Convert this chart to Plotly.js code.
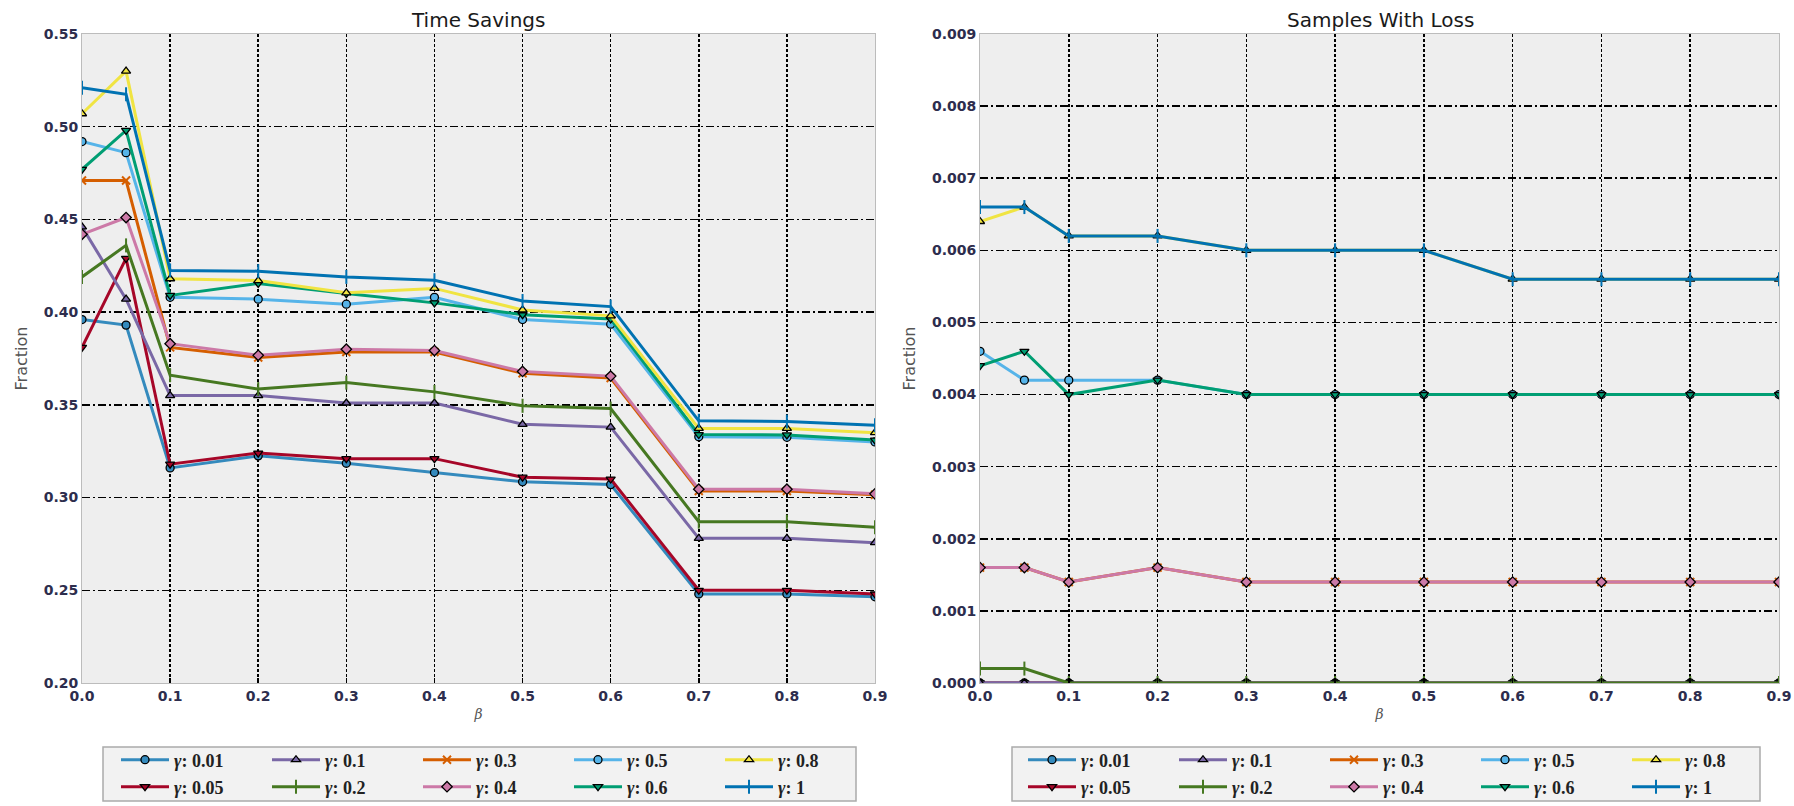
<!DOCTYPE html>
<html>
<head>
<meta charset="utf-8">
<script src="https://cdn.plot.ly/plotly-3.0.1.min.js"></script>
<style>html,body{margin:0;padding:0;background:#fff;}#chart{width:1794px;height:806px;}</style>
</head>
<body>
<div id="chart"></div>
<script>
// ---------------- data ----------------
const beta = [0, 0.05, 0.1, 0.2, 0.3, 0.4, 0.5, 0.6, 0.7, 0.8, 0.9];
const gammaLabels = ['0.01', '0.05', '0.1', '0.2', '0.3', '0.4', '0.5', '0.6', '0.8', '1'];

// Time Savings (fraction)
const ts_g001 = [0.396, 0.393, 0.316, 0.3225, 0.3185, 0.3135, 0.3085, 0.307, 0.248, 0.248, 0.2465];
const ts_g005 = [0.381, 0.429, 0.318, 0.324, 0.321, 0.321, 0.311, 0.310, 0.250, 0.250, 0.248];
const ts_g01  = [0.446, 0.407, 0.355, 0.355, 0.351, 0.351, 0.3395, 0.338, 0.278, 0.278, 0.2757];
const ts_g02  = [0.419, 0.436, 0.366, 0.3585, 0.362, 0.357, 0.3495, 0.348, 0.287, 0.287, 0.284];
const ts_g03  = [0.471, 0.471, 0.381, 0.3755, 0.3785, 0.3785, 0.367, 0.3645, 0.3035, 0.3035, 0.3015];
const ts_g04  = [0.442, 0.451, 0.383, 0.3767, 0.380, 0.3793, 0.368, 0.3655, 0.3045, 0.3045, 0.302];
const ts_g05  = [0.492, 0.486, 0.408, 0.407, 0.4043, 0.408, 0.396, 0.3935, 0.3328, 0.3325, 0.330];
const ts_g06  = [0.477, 0.498, 0.409, 0.4155, 0.410, 0.405, 0.3986, 0.3963, 0.334, 0.3338, 0.331];
const ts_g08  = [0.507, 0.530, 0.418, 0.417, 0.4104, 0.4128, 0.4012, 0.398, 0.3373, 0.3373, 0.335];
const ts_g1   = [0.521, 0.5175, 0.4225, 0.4221, 0.419, 0.4172, 0.406, 0.403, 0.3414, 0.341, 0.339];

// Samples With Loss (fraction)
const sl_g001 = [0, 0, 0, 0, 0, 0, 0, 0, 0, 0, 0];
const sl_g005 = [0, 0, 0, 0, 0, 0, 0, 0, 0, 0, 0];
const sl_g01  = [0, 0, 0, 0, 0, 0, 0, 0, 0, 0, 0];
const sl_g02  = [0.0002, 0.0002, 0, 0, 0, 0, 0, 0, 0, 0, 0];
const sl_g03  = [0.0016, 0.0016, 0.0014, 0.0016, 0.0014, 0.0014, 0.0014, 0.0014, 0.0014, 0.0014, 0.0014];
const sl_g04  = [0.0016, 0.0016, 0.0014, 0.0016, 0.0014, 0.0014, 0.0014, 0.0014, 0.0014, 0.0014, 0.0014];
const sl_g05  = [0.0046, 0.0042, 0.0042, 0.0042, 0.0040, 0.0040, 0.0040, 0.0040, 0.0040, 0.0040, 0.0040];
const sl_g06  = [0.0044, 0.0046, 0.0040, 0.0042, 0.0040, 0.0040, 0.0040, 0.0040, 0.0040, 0.0040, 0.0040];
const sl_g08  = [0.0064, 0.0066, 0.0062, 0.0062, 0.0060, 0.0060, 0.0060, 0.0056, 0.0056, 0.0056, 0.0056];
const sl_g1   = [0.0066, 0.0066, 0.0062, 0.0062, 0.0060, 0.0060, 0.0060, 0.0056, 0.0056, 0.0056, 0.0056];

const timeSeries = [ts_g001, ts_g005, ts_g01, ts_g02, ts_g03, ts_g04, ts_g05, ts_g06, ts_g08, ts_g1];
const lossSeries = [sl_g001, sl_g005, sl_g01, sl_g02, sl_g03, sl_g04, sl_g05, sl_g06, sl_g08, sl_g1];

// ---------------- styles ----------------
const colors = ['#348ABD', '#A60628', '#7A68A6', '#467821', '#D55E00', '#CC79A7', '#56B4E9', '#009E73', '#F0E442', '#0072B2'];
const symbols = ['circle', 'triangle-down', 'triangle-up', 'line-ns-open', 'x-thin-open', 'diamond', 'circle', 'triangle-down', 'triangle-up', 'line-ns-open'];
const sizes = [8, 8, 8, 10, 8, 8, 8, 8, 8, 10];
// legend row for each series (row 1 / row 2)
const legendRow = [1, 2, 1, 2, 1, 2, 1, 2, 1, 2];

// plot area in pixels
const L = 82, R = 15, T = 34, B = 123, W = 1794, H = 806;
const PW = W - L - R, PH = H - T - B;
const px2x = p => (p - L) / PW;
const py2y = p => (H - B - p) / PH;

const traces = [];
function addTraces(series, xa, ya, legA, legB) {
  series.forEach((vals, i) => {
    const open = symbols[i].indexOf('open') >= 0;
    traces.push({
      type: 'scatter', mode: 'lines+markers',
      x: beta, y: vals, xaxis: xa, yaxis: ya,
      name: '<i>γ</i>: ' + gammaLabels[i],
      legend: legendRow[i] === 1 ? legA : legB,
      line: {color: colors[i], width: 3},
      marker: {symbol: symbols[i], size: sizes[i], color: colors[i],
               line: {color: open ? colors[i] : '#000', width: open ? 2 : 1.3}}
    });
  });
}
addTraces(timeSeries, 'x', 'y', 'legend', 'legend2');
addTraces(lossSeries, 'x2', 'y2', 'legend3', 'legend4');

const tickFont = {family: 'DejaVu Sans', size: 14, weight: 700, color: '#2d2d4d'};
const axCommon = {
  showgrid: true, gridcolor: '#000', gridwidth: 1.5,
  zeroline: false, showline: true, linecolor: '#bcbcbc', linewidth: 1, mirror: true,
  ticks: 'inside', ticklen: 5, tickwidth: 1.5, tickcolor: '#000',
  tickfont: tickFont, automargin: false, fixedrange: true
};
const xCommon = Object.assign({}, axCommon, {
  range: [0, 0.9], dtick: 0.1, tick0: 0, tickformat: '.1f', griddash: '3px,2px',
  title: {text: 'β', standoff: 6, font: {family: 'DejaVu Serif', size: 14, style: 'italic', color: '#555'}}
});
const yTitle = {text: 'Fraction', standoff: 12, font: {family: 'DejaVu Sans', size: 16, color: '#555'}};

const legFont = {family: 'Liberation Serif', size: 18, weight: 700, color: '#222'};
function legend(xp, yp) {
  return {orientation: 'h', x: px2x(xp), y: py2y(yp), xanchor: 'left', yanchor: 'middle',
          entrywidth: 88, itemwidth: 48, bgcolor: 'rgba(0,0,0,0)', borderwidth: 0, font: legFont,
          tracegroupgap: 0};
}

const layout = {
  width: W, height: H,
  margin: {l: L, r: R, t: T, b: B, autoexpand: false},
  paper_bgcolor: '#fff', plot_bgcolor: '#eeeeee',
  showlegend: true,
  xaxis: Object.assign({}, xCommon, {domain: [0, px2x(875)], anchor: 'y'}),
  yaxis: Object.assign({}, axCommon, {range: [0.20, 0.55], dtick: 0.05, tick0: 0.2, tickformat: '.2f',
          griddash: '8px,3px,2px,3px', anchor: 'x', title: yTitle}),
  xaxis2: Object.assign({}, xCommon, {domain: [px2x(980), 1], anchor: 'y2'}),
  yaxis2: Object.assign({}, axCommon, {range: [0, 0.009], dtick: 0.001, tick0: 0, tickformat: '.3f',
          griddash: '8px,3px,2px,3px', anchor: 'x2', title: yTitle}),
  legend: legend(116, 760),
  legend2: legend(116, 787),
  legend3: legend(1023, 760),
  legend4: legend(1023, 787),
  annotations: [
    {text: 'Time Savings', xref: 'paper', yref: 'paper', x: px2x(478), y: py2y(20),
     xanchor: 'center', yanchor: 'middle', showarrow: false,
     font: {family: 'DejaVu Sans', size: 20, color: '#1a1a1a'}},
    {text: 'Samples With Loss', xref: 'paper', yref: 'paper', x: px2x(1380), y: py2y(20),
     xanchor: 'center', yanchor: 'middle', showarrow: false,
     font: {family: 'DejaVu Sans', size: 20, color: '#1a1a1a'}}
  ],
  shapes: [
    {type: 'rect', xref: 'paper', yref: 'paper', layer: 'below',
     x0: px2x(103), x1: px2x(856), y0: py2y(801), y1: py2y(747),
     fillcolor: '#f2f2f2', line: {color: '#aaaaaa', width: 1.5}},
    {type: 'rect', xref: 'paper', yref: 'paper', layer: 'below',
     x0: px2x(1012), x1: px2x(1760), y0: py2y(801), y1: py2y(747),
     fillcolor: '#f2f2f2', line: {color: '#aaaaaa', width: 1.5}}
  ]
};

Plotly.newPlot('chart', traces, layout, {displayModeBar: false, staticPlot: true});
</script>
</body>
</html>
